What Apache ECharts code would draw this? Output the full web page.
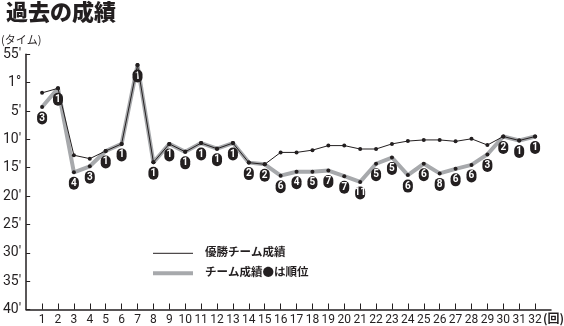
<!DOCTYPE html>
<html>
<head>
<meta charset="utf-8">
<style>
html,body{margin:0;padding:0;background:#fff;}
#chart{width:564px;height:326px;}
</style>
<script src="https://cdn.jsdelivr.net/npm/echarts@6/dist/echarts.min.js"></script>
</head>
<body>
<div id="chart"></div>
<script>
// Rounds (回)
const rounds = [1,2,3,4,5,6,7,8,9,10,11,12,13,14,15,16,17,18,19,20,21,22,23,24,25,26,27,28,29,30,31,32];
// Times in minutes (55 = 0:55, 60 = 1:00, 100 = 1:40)
const winnerTimes = [61.8,61.0,72.8,73.4,72.05,70.8,56.9,74.05,70.8,72.2,70.65,71.65,70.65,74.1,74.4,72.3,72.3,71.9,71.1,71.1,71.7,71.7,70.8,70.3,70.1,70.1,70.35,69.9,71.0,69.5,70.2,69.5];
const teamTimes   = [64.3,61.0,75.8,74.75,72.05,70.8,56.9,74.05,70.8,72.2,70.65,71.65,70.65,74.1,74.4,76.4,75.7,75.7,75.5,76.5,77.5,74.3,73.2,76.3,74.3,76.0,75.2,74.5,72.65,69.5,70.2,69.5];
const teamRanks   = [3,1,4,3,1,1,1,1,1,1,1,1,1,2,2,6,4,5,7,7,11,5,5,6,6,8,6,6,3,2,1,1];
// Y tick values and labels
const yTickValues = [55,60,65,70,75,80,85,90,95,100];
const yTickLabels = ["55'","1°","5'","10'","15'","20'","25'","30'","35'","40'"];
const seriesNames = ['優勝チーム成績','チーム成績●は順位'];

const DARK = '#231f20';
const GRAY = '#a7a9ac';
const NARROW = "'Liberation Sans Narrow','Roboto','Liberation Sans',sans-serif";
const JP = "'Noto Sans CJK JP','Noto Sans',sans-serif";

const cats = [''].concat(rounds.map(String)).concat(['']);
const pad = arr => [null].concat(arr).concat([null]);

const chart = echarts.init(document.getElementById('chart'), null, {renderer:'canvas'});
chart.setOption({
  animation: false,
  backgroundColor: '#fff',
  grid: {left: 23.3, right: 13, top: 54.3, bottom: 16.5, containLabel: false},
  xAxis: {
    type: 'category',
    data: cats,
    boundaryGap: false,
    axisLine: {show: true, lineStyle: {color: DARK, width: 1.5}},
    axisTick: {show: true, inside: true, length: 6, lineStyle: {color: DARK, width: 1},
      interval: (i, v) => v !== ''},
    axisLabel: {interval: 0, color: DARK, fontFamily: NARROW, fontSize: 12, margin: 4},
    splitLine: {show: false}
  },
  yAxis: {
    type: 'value',
    inverse: true,
    min: 55, max: 100, interval: 5,
    axisLine: {show: true, lineStyle: {color: DARK, width: 1.5}},
    axisTick: {show: true, inside: true, length: 4, lineStyle: {color: DARK, width: 1}},
    axisLabel: {color: DARK, fontFamily: NARROW, fontSize: 14, margin: 5,
      formatter: v => { const i = yTickValues.indexOf(v); return i >= 0 ? yTickLabels[i] : ''; }},
    splitLine: {show: false}
  },
  series: [
    {
      name: seriesNames[1],
      type: 'line',
      data: pad(teamTimes),
      z: 2,
      symbol: 'circle', symbolSize: 4,
      itemStyle: {color: DARK},
      lineStyle: {color: GRAY, width: 4},
      emphasis: {disabled: true},
      label: {
        show: true, position: 'bottom', distance: 9,
        formatter: p => String(teamRanks[p.dataIndex - 1]),
        color: '#fff', fontWeight: 'bold', fontFamily: NARROW, fontSize: 10,
        backgroundColor: DARK, borderRadius: 5,
        width: 10, height: 13, lineHeight: 13, align: 'center', verticalAlign: 'middle', padding: 0
      }
    },
    {
      name: seriesNames[0],
      type: 'line',
      data: pad(winnerTimes),
      z: 3,
      symbol: 'circle', symbolSize: 4,
      itemStyle: {color: DARK},
      lineStyle: {color: DARK, width: 1},
      emphasis: {disabled: true}
    }
  ],
  graphic: [
    {type: 'text', left: 6, top: 1, style: {text: '過去の成績', fill: DARK, font: '900 22px ' + JP}},
    {type: 'text', left: 1, top: 34, style: {text: '(タイム)', fill: DARK, font: '11px ' + JP}},
    {type: 'text', left: 543, top: 312, style: {text: '(回)', fill: DARK, font: 'bold 12px ' + JP}},
    {type: 'line', shape: {x1: 153, y1: 253.3, x2: 193, y2: 253.3}, style: {stroke: DARK, lineWidth: 1}},
    {type: 'line', shape: {x1: 153, y1: 273.3, x2: 193, y2: 273.3}, style: {stroke: GRAY, lineWidth: 4}},
    {type: 'text', left: 205, top: 246, style: {text: seriesNames[0], fill: DARK, font: 'bold 11.5px ' + JP}},
    {type: 'text', left: 205, top: 266, style: {text: seriesNames[1], fill: DARK, font: 'bold 11.5px ' + JP}}
  ]
});
</script>
</body>
</html>
